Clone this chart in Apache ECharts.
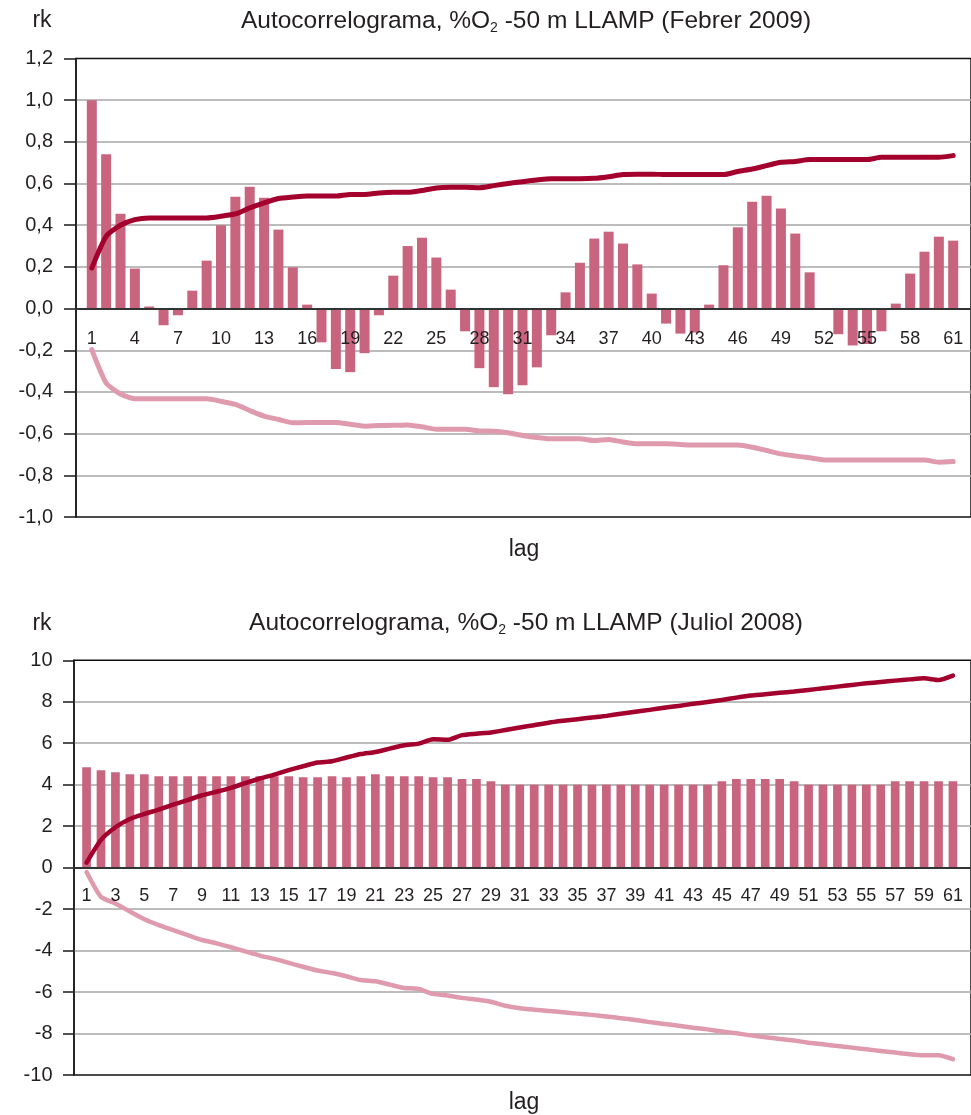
<!DOCTYPE html>
<html>
<head>
<meta charset="utf-8">
<script src="https://cdn.jsdelivr.net/npm/echarts@6/dist/echarts.min.js"></script>
<style>
  html, body { margin: 0; padding: 0; background: #ffffff; }
  #chart { width: 971px; height: 1115px; }
</style>
</head>
<body>
<div id="chart"></div>
<script>
// Lags of the autocorrelation function
const lags = [1, 2, 3, 4, 5, 6, 7, 8, 9, 10, 11, 12, 13, 14, 15, 16, 17, 18, 19, 20,
  21, 22, 23, 24, 25, 26, 27, 28, 29, 30, 31, 32, 33, 34, 35, 36, 37, 38, 39, 40,
  41, 42, 43, 44, 45, 46, 47, 48, 49, 50, 51, 52, 53, 54, 55, 56, 57, 58, 59, 60, 61];

// Labelled lags on each x axis
const febTicks = [1, 4, 7, 10, 13, 16, 19, 22, 25, 28, 31, 34, 37, 40, 43, 46, 49, 52, 55, 58, 61];
const julTicks = [1, 3, 5, 7, 9, 11, 13, 15, 17, 19, 21, 23, 25, 27, 29, 31, 33, 35, 37, 39, 41,
  43, 45, 47, 49, 51, 53, 55, 57, 59, 61];

// Febrer 2009: autocorrelation rk and confidence limits
const febRk = [1.0, 0.74, 0.455, 0.192, 0.01, -0.08, -0.032, 0.086, 0.23, 0.40,
  0.537, 0.585, 0.532, 0.379, 0.198, 0.019, -0.162, -0.29, -0.305, -0.214,
  -0.032, 0.158, 0.30, 0.34, 0.245, 0.091, -0.109, -0.286, -0.377, -0.411,
  -0.368, -0.282, -0.128, 0.078, 0.22, 0.336, 0.369, 0.312, 0.212, 0.072,
  -0.072, -0.12, -0.115, 0.019, 0.208, 0.39, 0.513, 0.542, 0.48, 0.36,
  0.174, 0.0, -0.123, -0.177, -0.17, -0.109, 0.024, 0.168, 0.273, 0.345, 0.326];
const febUpper = [0.195, 0.347, 0.40, 0.427, 0.435, 0.435, 0.435, 0.435, 0.435, 0.443,
  0.454, 0.483, 0.507, 0.528, 0.535, 0.54, 0.54, 0.54, 0.548, 0.548,
  0.555, 0.558, 0.558, 0.567, 0.579, 0.582, 0.582, 0.58, 0.59, 0.60,
  0.609, 0.617, 0.623, 0.623, 0.623, 0.625, 0.633, 0.643, 0.645, 0.645,
  0.643, 0.643, 0.643, 0.643, 0.643, 0.658, 0.67, 0.686, 0.702, 0.706,
  0.715, 0.715, 0.715, 0.715, 0.715, 0.726, 0.726, 0.726, 0.726, 0.726, 0.734];
const febLower = [-0.197, -0.357, -0.41, -0.433, -0.433, -0.433, -0.433, -0.433, -0.433, -0.445,
  -0.46, -0.489, -0.516, -0.532, -0.548, -0.547, -0.546, -0.546, -0.555, -0.564,
  -0.561, -0.56, -0.558, -0.567, -0.579, -0.579, -0.579, -0.587, -0.588, -0.596,
  -0.609, -0.619, -0.625, -0.625, -0.625, -0.633, -0.628, -0.64, -0.649, -0.649,
  -0.649, -0.652, -0.655, -0.655, -0.655, -0.655, -0.665, -0.681, -0.697, -0.707,
  -0.716, -0.726, -0.727, -0.727, -0.727, -0.727, -0.727, -0.727, -0.727, -0.737, -0.734];

// Juliol 2008: autocorrelation rk and confidence limits
const julRk = [4.84, 4.70, 4.60, 4.51, 4.51, 4.41, 4.41, 4.41, 4.41, 4.41,
  4.41, 4.41, 4.41, 4.41, 4.41, 4.36, 4.36, 4.41, 4.36, 4.41,
  4.51, 4.41, 4.41, 4.41, 4.36, 4.36, 4.27, 4.27, 4.17, 4.0,
  4.0, 4.0, 4.0, 4.0, 4.0, 4.0, 4.0, 4.0, 4.0, 4.0,
  4.0, 4.0, 4.0, 4.0, 4.17, 4.27, 4.27, 4.27, 4.27, 4.17,
  4.0, 4.0, 4.0, 4.0, 4.0, 4.0, 4.17, 4.17, 4.17, 4.17, 4.17];
const julUpper = [0.24, 1.34, 1.95, 2.35, 2.59, 2.80, 3.04, 3.26, 3.49, 3.66,
  3.85, 4.08, 4.30, 4.49, 4.70, 4.89, 5.07, 5.13, 5.31, 5.48,
  5.58, 5.74, 5.90, 5.98, 6.19, 6.17, 6.39, 6.46, 6.52, 6.64,
  6.76, 6.87, 6.99, 7.08, 7.16, 7.24, 7.32, 7.42, 7.52, 7.61,
  7.71, 7.80, 7.90, 7.99, 8.09, 8.20, 8.30, 8.36, 8.43, 8.49,
  8.57, 8.65, 8.73, 8.81, 8.89, 8.95, 9.02, 9.08, 9.13, 9.05, 9.26];
const julLower = [-0.21, -1.41, -1.73, -2.12, -2.49, -2.77, -3.01, -3.25, -3.49, -3.65,
  -3.84, -4.04, -4.24, -4.40, -4.59, -4.78, -4.96, -5.08, -5.24, -5.42,
  -5.48, -5.64, -5.80, -5.85, -6.09, -6.17, -6.28, -6.36, -6.47, -6.66,
  -6.78, -6.85, -6.91, -6.97, -7.04, -7.10, -7.18, -7.26, -7.35, -7.45,
  -7.54, -7.62, -7.72, -7.80, -7.90, -7.99, -8.09, -8.18, -8.26, -8.34,
  -8.44, -8.52, -8.60, -8.68, -8.76, -8.84, -8.92, -9.00, -9.05, -9.05, -9.24];

const FONT = '"Liberation Sans", Arial, Helvetica, sans-serif';
const TEXT = '#231f20';
const BAR = '#c9647f';
const DARK = '#a3002e';
const LIGHT = '#df9bad';
const GRID_LINE = '#a6a6a6';

// Plot areas (px) and value ranges
const febGrid = { left: 76, top: 58.5, width: 905, height: 458.5 };
const julGrid = { left: 74, top: 660.3, width: 907, height: 414.7 };
const febY = { min: -1.0, max: 1.2, interval: 0.2 };
const julY = { min: -10, max: 10, interval: 2 };

const pairs = vals => lags.map((l, i) => [l, vals[i]]);
const commaFmt = v => (Math.abs(v) < 1e-9 ? 0 : v).toFixed(1).replace('.', ',');
// Distance from the bottom edge of a plot area up to its y = 0 line
const zeroLift = (grid, y) => grid.height * (0 - y.min) / (y.max - y.min);

function yAxisFor(gridIndex, y, fmt, tickLen, margin) {
  return {
    type: 'value', gridIndex, min: y.min, max: y.max, interval: y.interval,
    axisLine: { show: true, onZero: false, lineStyle: { color: '#1a1a1a', width: 1.5 } },
    axisTick: { show: true, length: tickLen, lineStyle: { color: '#1a1a1a', width: 1.5 } },
    axisLabel: { formatter: fmt, margin, fontSize: 20, fontFamily: FONT, color: TEXT },
    splitLine: { show: true, showMinLine: false, showMaxLine: false,
      lineStyle: { color: GRID_LINE, width: 1.5 } }
  };
}

function xAxisFor(gridIndex, min, max, ticks, margin, lift) {
  return {
    type: 'value', gridIndex, min, max, z: 5,
    position: 'bottom', offset: -lift,
    axisLine: { show: true, onZero: false, lineStyle: { color: '#333333', width: 2 } },
    axisTick: { show: false },
    splitLine: { show: false },
    axisLabel: { customValues: ticks, margin, fontSize: 18, fontFamily: FONT, color: TEXT }
  };
}

function seriesFor(idx, rk, upper, lower, barW, lineW) {
  return [
    { type: 'bar', xAxisIndex: idx, yAxisIndex: idx, data: pairs(rk), barWidth: barW,
      itemStyle: { color: BAR }, z: 2, silent: true },
    { type: 'line', xAxisIndex: idx, yAxisIndex: idx, data: pairs(upper), showSymbol: false,
      smooth: 0.2, lineStyle: { color: DARK, width: lineW, cap: 'round', join: 'round' }, z: 3 },
    { type: 'line', xAxisIndex: idx, yAxisIndex: idx, data: pairs(lower), showSymbol: false,
      smooth: 0.2, lineStyle: { color: LIGHT, width: lineW, cap: 'round', join: 'round' }, z: 3 }
  ];
}

function titleText(y, period) {
  return {
    type: 'text', x: 526, y,
    style: {
      text: '{a|Autocorrelograma, %O}{s|2}{a| -50 m LLAMP (' + period + ')}',
      align: 'center', verticalAlign: 'middle',
      rich: {
        a: { fontSize: 24.5, fontFamily: FONT, fill: TEXT, color: TEXT },
        s: { fontSize: 14, fontFamily: FONT, fill: TEXT, color: TEXT, padding: [15, 0, 0, 0] }
      }
    }
  };
}

function plainText(x, y, txt) {
  return { type: 'text', x, y,
    style: { text: txt, align: 'center', verticalAlign: 'middle',
      fontSize: 23, fontFamily: FONT, fill: TEXT } };
}

const gridStyle = { show: true, borderColor: '#111111', borderWidth: 1.5, backgroundColor: 'transparent' };

const chart = echarts.init(document.getElementById('chart'), null, { renderer: 'canvas' });
chart.setOption({
  animation: false,
  backgroundColor: '#ffffff',
  grid: [
    Object.assign({}, febGrid, gridStyle),
    Object.assign({}, julGrid, gridStyle)
  ],
  xAxis: [
    xAxisFor(0, -0.1, 62.24, febTicks, 21, zeroLift(febGrid, febY)),
    xAxisFor(1, 0.13, 62.25, julTicks, 19, zeroLift(julGrid, julY))
  ],
  yAxis: [
    yAxisFor(0, febY, commaFmt, 12, 23),
    yAxisFor(1, julY, v => String(v), 11, 21.5)
  ],
  series: [
    ...seriesFor(0, febRk, febUpper, febLower, 10, 5),
    ...seriesFor(1, julRk, julUpper, julLower, 8.7, 4.5)
  ],
  graphic: [
    titleText(21, 'Febrer 2009'),
    titleText(623, 'Juliol 2008'),
    plainText(42, 21, 'rk'),
    plainText(42, 624, 'rk'),
    plainText(524, 550, 'lag'),
    plainText(524, 1103, 'lag')
  ]
});
</script>
</body>
</html>
